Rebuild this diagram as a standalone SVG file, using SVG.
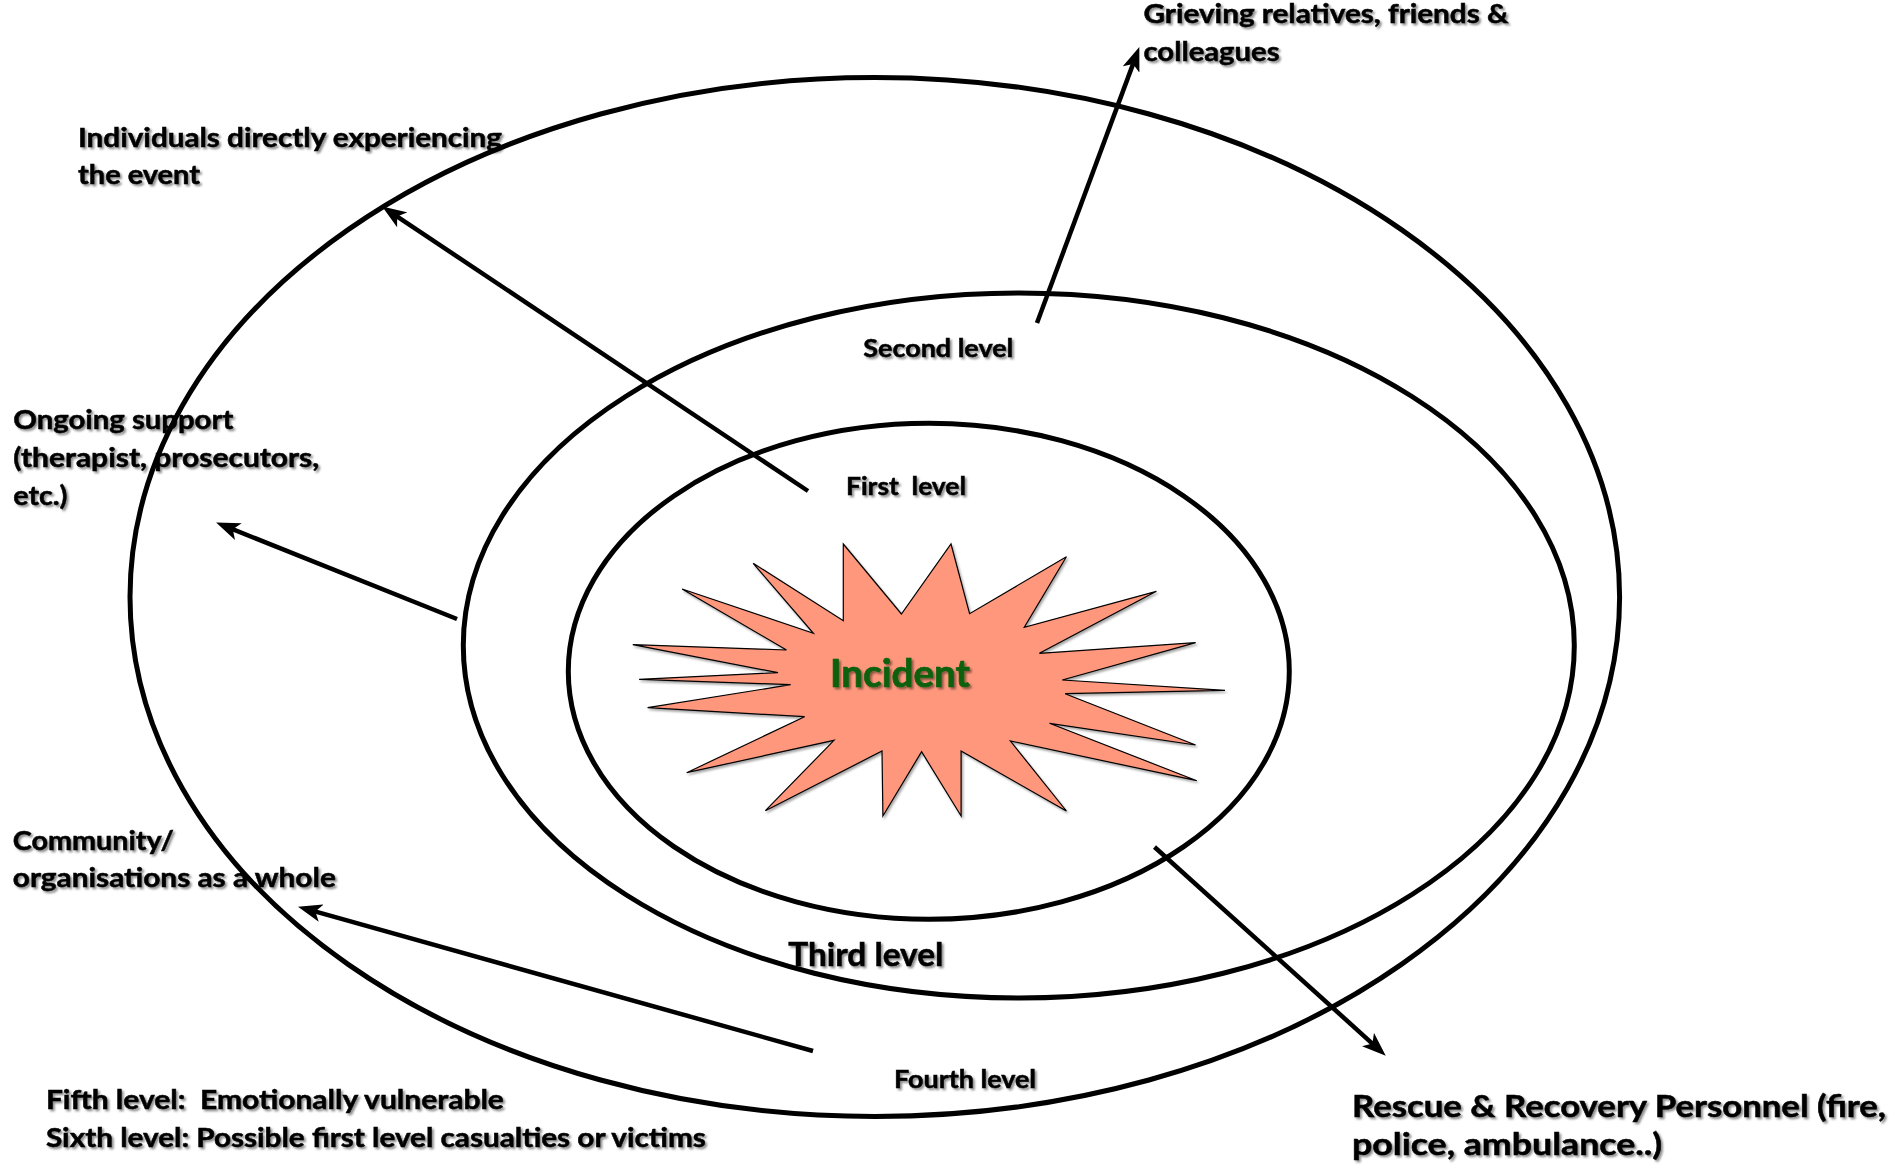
<svg xmlns="http://www.w3.org/2000/svg" width="1890" height="1170" viewBox="0 0 1890 1170">
  <defs>
    <filter id="txtShadow" x="-5%" y="-20%" width="110%" height="150%">
      <feDropShadow dx="2" dy="2" stdDeviation="1.2" flood-color="#000" flood-opacity="0.45"/>
    </filter>
    <filter id="burstShadow" x="-5%" y="-5%" width="110%" height="115%">
      <feDropShadow dx="1.5" dy="2" stdDeviation="1" flood-color="#000" flood-opacity="0.35"/>
    </filter>
    <marker id="arrow" markerUnits="userSpaceOnUse" markerWidth="24" markerHeight="18" viewBox="0 0 24 18" refX="13" refY="9" orient="auto">
      <path d="M0,0 L24,9 L0,18 L6,9 Z" fill="#000"/>
    </marker>
  </defs>
  <style>
    .ring { fill: none; stroke: #000; stroke-width: 5; }
    .conn { stroke: #000; stroke-width: 4.5; fill: none; marker-end: url(#arrow); }
    .lbl { font-family: Lato, "Open Sans", "Liberation Sans", sans-serif; font-weight: 700; fill: #000; stroke: #000; stroke-width: 0.5; filter: url(#txtShadow); }
    .side { font-size: 27px; }
    .lvl { font-size: 25px; }
    .burst-text { fill: #0A600A; stroke: #0A600A; stroke-width: 0.7; }
  </style>

  <rect width="1890" height="1170" fill="#fff"/>

  <!-- concentric levels -->
  <g id="ring-outer"><ellipse class="ring" cx="874.8" cy="597" rx="744.8" ry="519.5"/></g>
  <g id="ring-middle"><ellipse class="ring" cx="1018.8" cy="645.5" rx="555.5" ry="352.5"/></g>
  <g id="ring-inner"><ellipse class="ring" cx="928.8" cy="671.3" rx="360.5" ry="248"/></g>

  <!-- incident burst -->
  <g id="incident">
    <polygon filter="url(#burstShadow)" fill="#FF977C" stroke="#000" stroke-width="1.2" stroke-linejoin="miter"
      points="843.3,544 901.4,614 951,544 969.6,613.7 1066.4,556.7 1024.3,627.3 1156.4,591.3 1039.4,653.3 1195.6,642.7 1062.2,680 1225,690.3 1065.1,693.7 1195.6,745 1049.5,723.3 1196.8,780.7 1010.4,741 1066.4,811 961.1,751 961.1,816 921.6,751.7 882.9,816 882,751 765.4,810.7 834,740.3 686.7,772.7 804.6,716.7 647.6,707.7 790.7,684.7 639.1,679.3 778,672.7 632.8,644.7 786.5,650 682.1,589 813.4,633.3 753.2,563.3 843.3,620.7"/>
    <text class="lbl burst-text" x="830" y="686.7" font-size="39" textLength="140" lengthAdjust="spacingAndGlyphs">Incident</text>
  </g>

  <!-- connectors -->
  <g id="connectors">
    <line class="conn" x1="808" y1="491" x2="391.3" y2="212.6"/>
    <line class="conn" x1="1037" y1="323" x2="1135.5" y2="57.4"/>
    <line class="conn" x1="457" y1="619" x2="226.3" y2="526.7"/>
    <line class="conn" x1="813" y1="1051" x2="308.6" y2="909.7"/>
    <line class="conn" x1="1154.5" y1="847" x2="1377.6" y2="1048.3"/>
  </g>

  <!-- level labels -->
  <g id="level-first"><text class="lbl lvl" x="846" y="495" xml:space="preserve" textLength="120" lengthAdjust="spacingAndGlyphs">First  level</text></g>
  <g id="level-second"><text class="lbl lvl" x="863.3" y="357.3" textLength="150" lengthAdjust="spacingAndGlyphs">Second level</text></g>
  <g id="level-third"><text class="lbl" x="788.3" y="965.7" font-size="32" textLength="155" lengthAdjust="spacingAndGlyphs">Third level</text></g>
  <g id="level-fourth"><text class="lbl lvl" x="894" y="1088.3" textLength="142" lengthAdjust="spacingAndGlyphs">Fourth level</text></g>

  <!-- group labels -->
  <g id="label-individuals">
    <text class="lbl side" x="78" y="146.7" textLength="424" lengthAdjust="spacingAndGlyphs">Individuals directly experiencing</text>
    <text class="lbl side" x="78" y="184" textLength="122" lengthAdjust="spacingAndGlyphs">the event</text>
  </g>
  <g id="label-grieving">
    <text class="lbl side" x="1143.5" y="23.3" textLength="365" lengthAdjust="spacingAndGlyphs">Grieving relatives, friends &amp;</text>
    <text class="lbl side" x="1143.5" y="61" textLength="136" lengthAdjust="spacingAndGlyphs">colleagues</text>
  </g>
  <g id="label-support">
    <text class="lbl side" x="13.3" y="429.3" textLength="220" lengthAdjust="spacingAndGlyphs">Ongoing support</text>
    <text class="lbl side" x="13.3" y="467" textLength="306" lengthAdjust="spacingAndGlyphs">(therapist, prosecutors,</text>
    <text class="lbl side" x="13.3" y="505" textLength="54" lengthAdjust="spacingAndGlyphs">etc.)</text>
  </g>
  <g id="label-community">
    <text class="lbl side" x="12.8" y="850" textLength="161" lengthAdjust="spacingAndGlyphs">Community/</text>
    <text class="lbl side" x="12.8" y="887" textLength="323" lengthAdjust="spacingAndGlyphs">organisations as a whole</text>
  </g>
  <g id="label-fifth-sixth">
    <text class="lbl side" x="45.9" y="1109" xml:space="preserve" textLength="458" lengthAdjust="spacingAndGlyphs">Fifth level:  Emotionally vulnerable</text>
    <text class="lbl side" x="45.9" y="1146.7" textLength="660" lengthAdjust="spacingAndGlyphs">Sixth level: Possible first level casualties or victims</text>
  </g>
  <g id="label-rescue">
    <text class="lbl" x="1352" y="1116.7" font-size="30" textLength="534" lengthAdjust="spacingAndGlyphs">Rescue &amp; Recovery Personnel (fire,</text>
    <text class="lbl" x="1352" y="1155" font-size="30" textLength="310" lengthAdjust="spacingAndGlyphs">police, ambulance..)</text>
  </g>
</svg>
